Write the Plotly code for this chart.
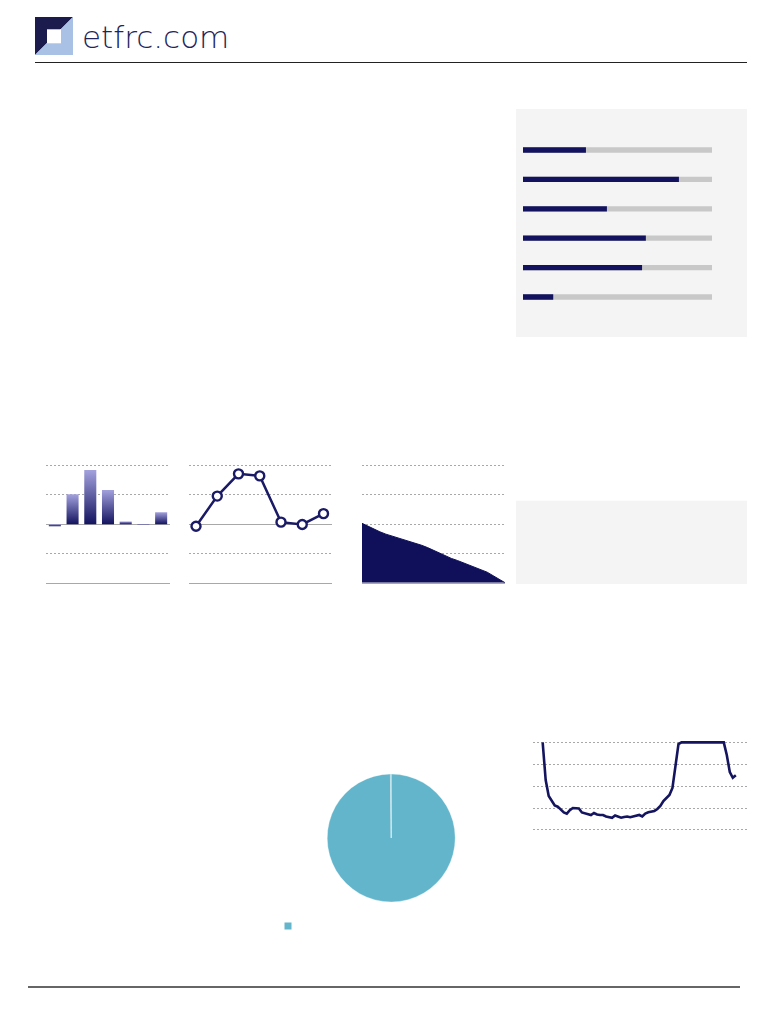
import plotly.graph_objects as go

W, H = 768, 1024
OFF = 8  # page body margin
NAVY = "#12125e"
GRID = "#a8a8a8"

# progress bars (top right panel), share of full track
progress_rows = ["r1", "r2", "r3", "r4", "r5", "r6"]
progress_vals = [0.333, 0.825, 0.444, 0.65, 0.63, 0.16]

# small bar chart
bar_cats = [0, 1, 2, 3, 4, 5, 6]
bar_vals = [-0.07, 1.02, 1.85, 1.17, 0.09, -0.03, 0.41]

# line with open markers
line_cats = [0, 1, 2, 3, 4, 5, 6]
line_vals = [-0.07, 0.96, 1.72, 1.65, 0.07, -0.01, 0.36]

# declining area
area_x = list(range(25))
area_vals = [2.03, 1.93, 1.85, 1.74, 1.66, 1.60, 1.54, 1.48, 1.42, 1.35, 1.28, 1.20,
             1.11, 1.01, 0.91, 0.83, 0.76, 0.68, 0.61, 0.54, 0.46, 0.36, 0.24, 0.11, 0.0]

# pie
pie_labels = ["a", "b"]
pie_vals = [99.8, 0.2]

# bottom right percentile line
pct_vals = [100, 57, 38.8, 32.5, 27.9, 26.6, 23.4, 20, 18.6, 22.5, 25.1, 25.1, 24.5,
            20, 18.8, 18.2, 17.1, 19.4, 17.7, 17.1, 17.1, 15.4, 14.8, 13.9, 16.5,
            15.4, 14, 14.8, 15.4, 14.5, 15.4, 16.5, 17.1, 15.4, 18.8, 20.2, 20.8,
            21.7, 23.9, 27.4, 33.1, 37.1, 39.9, 47.9, 70.7, 98, 100, 100, 100, 100,
            100, 100, 100, 100, 100, 100, 100, 100, 100, 100, 100, 85.5, 66.1, 59.6, 62.4]
pct_x = list(range(len(pct_vals)))


def px(x):
    return (x - OFF) / W


def py(y):
    return 1 - (y - OFF) / H


fig = go.Figure()

# progress bars
fig.add_trace(go.Bar(y=progress_rows, x=[1] * len(progress_rows), orientation="h",
                     marker=dict(color="#c8c8c8", line_width=0), width=0.18,
                     xaxis="x", yaxis="y", hoverinfo="skip"))
fig.add_trace(go.Bar(y=progress_rows, x=progress_vals, orientation="h",
                     marker=dict(color=NAVY, line_width=0), width=0.18,
                     xaxis="x", yaxis="y"))

# gradient bars
half = 0.34
for c, v in zip(bar_cats, bar_vals):
    fig.add_trace(go.Scatter(
        x=[c - half, c + half, c + half, c - half, c - half],
        y=[0, 0, v, v, 0],
        fill="toself", mode="lines", line=dict(width=0),
        fillgradient=dict(type="vertical",
                          colorscale=[[0, "#13135f"], [1, "#a3a1dd"]]),
        xaxis="x2", yaxis="y2"))

# line with markers
fig.add_trace(go.Scatter(x=line_cats, y=line_vals, mode="lines+markers",
                         line=dict(color="#1a1a66", width=2.5),
                         marker=dict(size=9, color="white",
                                     line=dict(color="#1a1a66", width=2.4)),
                         cliponaxis=False, xaxis="x3", yaxis="y3"))

# area
fig.add_trace(go.Scatter(x=area_x, y=area_vals, mode="lines", fill="tozeroy",
                         fillcolor="#10105a", line=dict(color="#10105a", width=1),
                         xaxis="x4", yaxis="y4"))

# pie
fig.add_trace(go.Pie(labels=pie_labels, values=pie_vals, sort=False,
                     direction="clockwise", rotation=0, textinfo="none",
                     marker=dict(colors=["#62b5cb", "#62b5cb"],
                                 line=dict(color="rgba(255,255,255,0.35)", width=1)),
                     domain=dict(x=[px(327.2), px(455.2)], y=[py(903), py(773)])))

# percentile line
fig.add_trace(go.Scatter(x=pct_x, y=pct_vals, mode="lines",
                         line=dict(color="#15155f", width=2.6),
                         xaxis="x5", yaxis="y5"))

hidden = dict(showticklabels=False, ticks="", showgrid=False, zeroline=False)
dotgrid = dict(showticklabels=False, ticks="", showgrid=True, gridcolor=GRID,
               griddash="2px,2px", gridwidth=1)

fig.update_layout(
    width=W, height=H,
    margin=dict(l=0, r=0, t=0, b=0),
    paper_bgcolor="white", plot_bgcolor="rgba(0,0,0,0)",
    showlegend=False, barmode="overlay",
    xaxis=dict(domain=[px(523), px(712)], range=[0, 1], **hidden),
    yaxis=dict(domain=[py(311.7), py(135.3)], autorange="reversed", **hidden),
    xaxis2=dict(domain=[px(46), px(170)], range=[-0.5, 6.5], showline=True,
                linecolor="#a8a8a8", linewidth=1, anchor="y2", **hidden),
    yaxis2=dict(domain=[py(582.7), py(464.2)], range=[-2, 2.05], dtick=1,
                zeroline=True, zerolinecolor="#a8a8a8", zerolinewidth=1,
                anchor="x2", **dotgrid),
    xaxis3=dict(domain=[px(189), px(332)], range=[-0.33, 6.4], showline=True,
                linecolor="#a8a8a8", linewidth=1, anchor="y3", **hidden),
    yaxis3=dict(domain=[py(582.7), py(464.2)], range=[-2, 2.05], dtick=1,
                zeroline=True, zerolinecolor="#a8a8a8", zerolinewidth=1,
                anchor="x3", **dotgrid),
    xaxis4=dict(domain=[px(362), px(505)], range=[0, 24], showline=True,
                linecolor="#a8a8a8", linewidth=1, anchor="y4", **hidden),
    yaxis4=dict(domain=[py(582.7), py(464.2)], range=[0, 4.05], dtick=1,
                zeroline=False, anchor="x4", **dotgrid),
    xaxis5=dict(domain=[px(533), px(747)], range=[-3.2, 67.7], anchor="y5", **hidden),
    yaxis5=dict(domain=[py(832.6), py(739.7)], range=[-3, 103], dtick=25, tick0=0,
                zeroline=False, anchor="x5", **dotgrid),
)

shapes = [
    # grey panels
    dict(type="rect", xref="paper", yref="paper", x0=px(516), x1=px(747),
         y0=py(337), y1=py(109), fillcolor="#f4f4f4", line_width=0, layer="below"),
    dict(type="rect", xref="paper", yref="paper", x0=px(516), x1=px(747),
         y0=py(584), y1=py(500.7), fillcolor="#f4f4f4", line_width=0, layer="below"),
    # logo
    dict(type="path", xref="paper", yref="paper",
         path=f"M {px(35)},{py(17)} L {px(73)},{py(17)} L {px(35)},{py(55)} Z",
         fillcolor="#1b1b4d", line_width=0),
    dict(type="path", xref="paper", yref="paper",
         path=f"M {px(73)},{py(17)} L {px(73)},{py(55)} L {px(35)},{py(55)} Z",
         fillcolor="#a8c1e4", line_width=0),
    dict(type="rect", xref="paper", yref="paper", x0=px(47), x1=px(61),
         y0=py(43.3), y1=py(29.3), fillcolor="white", line_width=0),
    # header / footer rules
    dict(type="line", xref="paper", yref="paper", x0=px(35), x1=px(747),
         y0=py(62.5), y1=py(62.5), line=dict(color="#222222", width=1)),
    dict(type="line", xref="paper", yref="paper", x0=px(28), x1=px(740),
         y0=py(987), y1=py(987), line=dict(color="#333333", width=1.5)),
    # pie legend swatch
    dict(type="rect", xref="paper", yref="paper", x0=px(284.5), x1=px(291.5),
         y0=py(929.5), y1=py(922.5), fillcolor="#62b5cb", line_width=0),
]
fig.update_layout(shapes=shapes)

fig.add_annotation(text="etfrc.com", xref="paper", yref="paper",
                   x=px(80), y=py(37), xanchor="left", yanchor="middle",
                   showarrow=False,
                   font=dict(family="DejaVu Sans", size=31, color="#23245a", weight=300))

fig.write_html("out.html")
